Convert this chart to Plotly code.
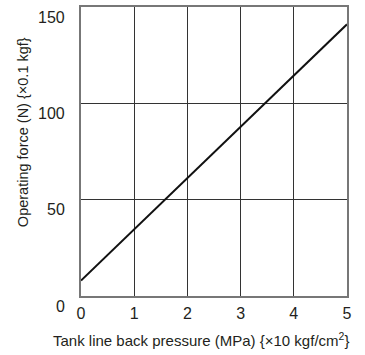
import plotly.graph_objects as go

pressure = [0, 5]
force = [8, 141]
x_ticks = [0, 1, 2, 3, 4, 5]
y_ticks = [0, 50, 100, 150]

FONT = "Liberation Sans, Arial, sans-serif"
TXT = "#231f20"

fig = go.Figure()
fig.add_trace(go.Scatter(x=pressure, y=force, mode="lines",
                         line=dict(color="#111111", width=2), showlegend=False,
                         hoverinfo="skip"))

ann = [
    dict(text="Tank line back pressure (MPa) {×10 kgf/cm<sup>2</sup>}",
         xref="paper", yref="paper", x=0.451, y=-0.152, xanchor="center",
         yanchor="middle", showarrow=False, font=dict(size=15, family=FONT, color=TXT)),
    dict(text="Operating force (N) {×0.1 kgf}", textangle=-90,
         xref="paper", yref="paper", x=-0.218, y=0.567, xanchor="center",
         yanchor="middle", showarrow=False, font=dict(size=14.5, family=FONT, color=TXT)),
]
for v in y_ticks:
    ann.append(dict(text=str(v), xref="paper", yref="y", x=0, y=v,
                    xanchor="right", yanchor="middle", xshift=-14, yshift=-10,
                    showarrow=False, font=dict(size=16, family=FONT, color=TXT)))

fig.update_layout(
    width=365, height=355,
    margin=dict(l=81, r=18, t=7, b=59),
    paper_bgcolor="white", plot_bgcolor="white",
    font=dict(family=FONT, color=TXT, size=16),
    xaxis=dict(range=[0, 5], tickvals=x_ticks, ticks="", showgrid=True,
               gridcolor="#333333", gridwidth=1, showline=True, mirror=True,
               linecolor="#777777", linewidth=1.5, zeroline=False, automargin=False,
               tickfont=dict(size=16), ticklabelstandoff=2),
    yaxis=dict(range=[0, 150], tickvals=y_ticks, ticks="", showgrid=True,
               gridcolor="#333333", gridwidth=1, showline=True, mirror=True,
               linecolor="#777777", linewidth=1.5, zeroline=False, automargin=False,
               showticklabels=False),
    annotations=ann,
)

fig.write_html("out.html", config={"displayModeBar": False},
               post_script="document.body.style.margin='0';")
